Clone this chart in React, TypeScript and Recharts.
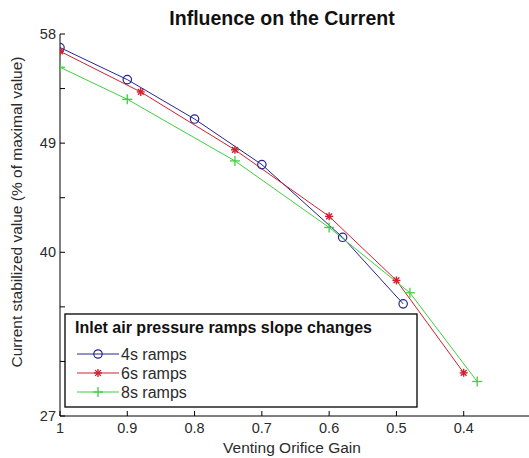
import React from 'react';
import { LineChart, Line, XAxis, YAxis } from 'recharts';

// ---- data ----
const xTicks = [1, 0.9, 0.8, 0.7, 0.6, 0.5, 0.4];
const xTickLabels = ['1', '0.9', '0.8', '0.7', '0.6', '0.5', '0.4'];
const yMin = 27;
const yMax = 58;
const yTickLabels = ['27', '', '', '40', '', '49', '', '58'];

const ramp4X = [1, 0.9, 0.8, 0.7, 0.58, 0.49];
const ramp4Y = [56.9, 54.3, 51.1, 47.4, 41.5, 36.1];
const ramp6X = [1, 0.88, 0.74, 0.6, 0.5, 0.4];
const ramp6Y = [56.6, 53.3, 48.6, 43.2, 38.0, 30.5];
const ramp8X = [1, 0.9, 0.74, 0.6, 0.48, 0.38];
const ramp8Y = [55.3, 52.7, 47.7, 42.3, 37.0, 29.8];

const seriesNames = ['4s ramps', '6s ramps', '8s ramps'];
const colors = ['#26268f', '#d21f2f', '#3fcf3f'];

const yTicks = yTickLabels.map((_, k) => yMin + (k * (yMax - yMin)) / (yTickLabels.length - 1));

const toRows = (xs: number[], ys: number[]) => xs.map((x, i) => ({ x, y: ys[i] }));
const data4 = toRows(ramp4X, ramp4Y);
const data6 = toRows(ramp6X, ramp6Y);
const data8 = toRows(ramp8X, ramp8Y);

const FONT = '"Liberation Sans", Arial, Helvetica, sans-serif';
const TICK_COLOR = '#2b2b2b';

const CircleMark = ({ cx, cy, color }: any) => (
  <circle cx={cx} cy={cy} r={4.2} fill="none" stroke={color} strokeWidth={1.2} />
);
const StarMark = ({ cx, cy, color }: any) => {
  const s = 4;
  const d = s * 0.72;
  return (
    <g stroke={color} strokeWidth={1.4}>
      <line x1={cx - s} y1={cy} x2={cx + s} y2={cy} />
      <line x1={cx} y1={cy - s} x2={cx} y2={cy + s} />
      <line x1={cx - d} y1={cy - d} x2={cx + d} y2={cy + d} />
      <line x1={cx - d} y1={cy + d} x2={cx + d} y2={cy - d} />
    </g>
  );
};
const PlusMark = ({ cx, cy, color }: any) => {
  const s = 5;
  return (
    <g stroke={color} strokeWidth={1.3}>
      <line x1={cx - s} y1={cy} x2={cx + s} y2={cy} />
      <line x1={cx} y1={cy - s} x2={cx} y2={cy + s} />
    </g>
  );
};

const markers = [CircleMark, StarMark, PlusMark];

const idxOf = (arr: number[], v: number) => arr.findIndex((t) => Math.abs(t - v) < 1e-6);

const LeftTick = (p: any) => {
  const label = yTickLabels[idxOf(yTicks, p.payload.value)];
  return (
    <g>
      <line x1={p.x} x2={p.x + 5} y1={p.y} y2={p.y} stroke="#000" />
      {label ? (
        <text x={p.x - 4} y={p.y + 5} textAnchor="end" fontSize={14.5} fontFamily={FONT} fill={TICK_COLOR}>
          {label}
        </text>
      ) : null}
    </g>
  );
};
const RightTick = (p: any) => (
  <line x1={p.x} x2={p.x - 5} y1={p.y} y2={p.y} stroke="#000" />
);
const BottomTick = (p: any) => {
  const label = xTickLabels[idxOf(xTicks, p.payload.value)];
  return (
    <g>
      <line x1={p.x} x2={p.x} y1={p.y} y2={p.y - 5} stroke="#000" />
      {label ? (
        <text x={p.x} y={p.y + 17} textAnchor="middle" fontSize={14.5} fontFamily={FONT} fill={TICK_COLOR}>
          {label}
        </text>
      ) : null}
    </g>
  );
};
const TopTick = (p: any) => (
  <line x1={p.x} x2={p.x} y1={p.y} y2={p.y + 5} stroke="#000" />
);

const series = [data4, data6, data8];

export default function App() {
  return (
    <div style={{ position: 'relative', width: 529, height: 458, overflow: 'hidden', background: '#fff' }}>
      <style>{'body{margin:0;overflow:hidden;background:#fff}'}</style>
      <LineChart width={545} height={458} margin={{ top: 34, right: 14, bottom: 0, left: 0 }}>
        <XAxis
          xAxisId="b"
          dataKey="x"
          type="number"
          domain={[0.3, 1]}
          reversed
          ticks={xTicks}
          orientation="bottom"
          height={42}
          tickSize={0}
          tickMargin={0}
          tick={BottomTick}
          axisLine={{ stroke: '#000' }}
          allowDataOverflow
          interval={0}
        />
        <XAxis
          xAxisId="t"
          dataKey="x"
          type="number"
          domain={[0.3, 1]}
          reversed
          ticks={xTicks}
          orientation="top"
          height={0}
          tickSize={0}
          tickMargin={0}
          tick={TopTick}
          axisLine={{ stroke: '#000' }}
          allowDataOverflow
          interval={0}
        />
        <YAxis
          yAxisId="l"
          type="number"
          domain={[yMin, yMax]}
          ticks={yTicks}
          orientation="left"
          width={60}
          tickSize={0}
          tickMargin={0}
          tick={LeftTick}
          axisLine={{ stroke: '#000' }}
          allowDataOverflow
          interval={0}
        />
        <YAxis
          yAxisId="r"
          type="number"
          domain={[yMin, yMax]}
          ticks={yTicks}
          orientation="right"
          width={0}
          tickSize={0}
          tickMargin={0}
          tick={RightTick}
          axisLine={{ stroke: '#000' }}
          allowDataOverflow
          interval={0}
        />
        {series.map((d, i) => {
          const M = markers[i];
          return (
            <Line
              key={seriesNames[i]}
              name={seriesNames[i]}
              data={d}
              dataKey="y"
              xAxisId="b"
              yAxisId="l"
              stroke={colors[i]}
              strokeWidth={1}
              isAnimationActive={false}
              dot={(p: any) => <M key={`${i}-${p.index}`} cx={p.cx} cy={p.cy} color={colors[i]} />}
              activeDot={false}
            />
          );
        })}
      </LineChart>
      <svg
        width={529}
        height={458}
        style={{ position: 'absolute', left: 0, top: 0, pointerEvents: 'none' }}
      >
        <text x={282} y={25} textAnchor="middle" fontSize={19.5} fontWeight="bold" fontFamily={FONT} fill="#111">
          Influence on the Current
        </text>
        <text x={292} y={453} textAnchor="middle" fontSize={15.5} fontFamily={FONT} fill={TICK_COLOR}>
          Venting Orifice Gain
        </text>
        <text
          x={0}
          y={0}
          transform="translate(22,212) rotate(-90)"
          textAnchor="middle"
          fontSize={15.5}
          fontFamily={FONT}
          fill={TICK_COLOR}
        >
          Current stabilized value (% of maximal value)
        </text>
        <rect x={65} y={314} width={352} height={93} fill="#fff" stroke="#000" strokeWidth={1.3} />
        <text x={75} y={333} fontSize={16} fontWeight="bold" fontFamily={FONT} fill="#111">
          Inlet air pressure ramps slope changes
        </text>
        {seriesNames.map((n, i) => {
          const M = markers[i];
          const cy = 354 + i * 19;
          return (
            <g key={n}>
              <line x1={77} x2={119} y1={cy} y2={cy} stroke={colors[i]} strokeWidth={1} />
              <M cx={98} cy={cy} color={colors[i]} />
              <text x={121} y={cy + 6} fontSize={16} fontFamily={FONT} fill={TICK_COLOR}>
                {n}
              </text>
            </g>
          );
        })}
      </svg>
    </div>
  );
}
